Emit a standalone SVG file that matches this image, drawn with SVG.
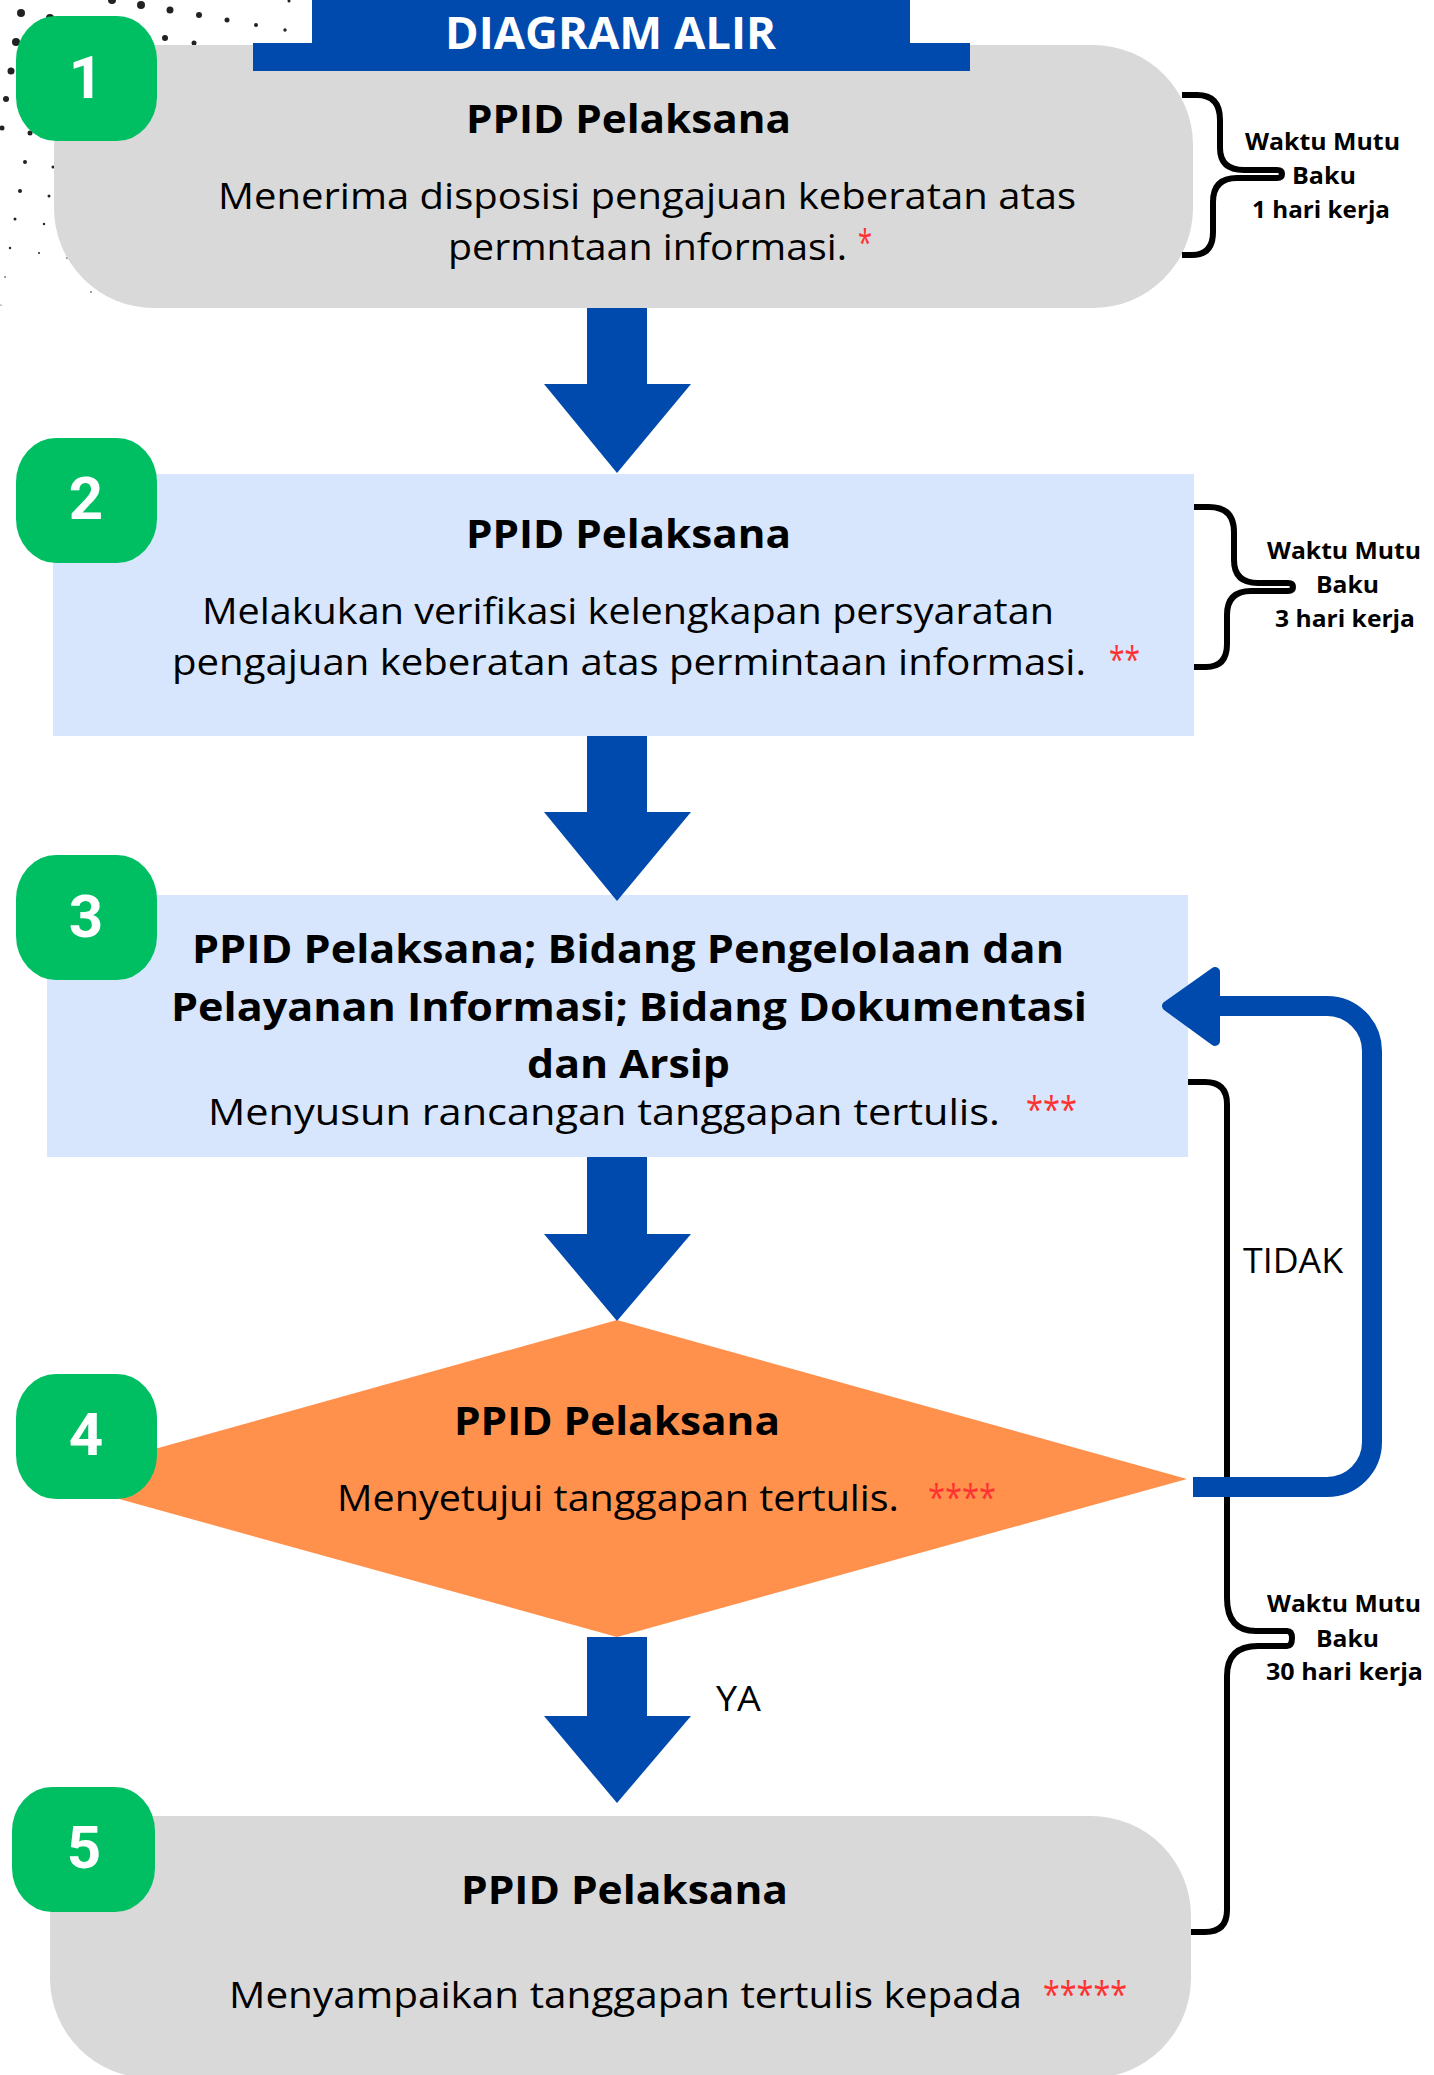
<svg xmlns="http://www.w3.org/2000/svg" width="1434" height="2075" viewBox="0 0 1434 2075">
<style>
.t{font-family:"Open Sans","Liberation Sans",sans-serif;font-weight:700;font-size:40px;fill:#000}
.b{font-family:"Open Sans","Liberation Sans",sans-serif;font-weight:400;font-size:36px;fill:#000}
.r{font-family:"Open Sans","Liberation Sans",sans-serif;font-weight:400;font-size:36px;fill:#FF3131}
.w{font-family:"Open Sans","Liberation Sans",sans-serif;font-weight:700;font-size:24px;fill:#000}
.n{font-family:Roboto,"Liberation Sans",sans-serif;font-weight:700;font-size:60px;fill:#fff;text-anchor:middle}
.lbl{font-family:"Open Sans","Liberation Sans",sans-serif;font-weight:400;font-size:35px;fill:#000}
.green{fill:#00BF63}
.gray{fill:#D9D9D9}
.lb{fill:#D7E6FC}
.blue{fill:#004AAD}
.br{fill:none;stroke:#000;stroke-width:6;stroke-linejoin:round}
.dot{fill:#222}
</style>

<g id="dots">
<circle class="dot" cx="289" cy="1" r="1.5"/>
<circle class="dot" cx="112" cy="0" r="4"/>
<circle class="dot" cx="141" cy="5" r="4"/>
<circle class="dot" cx="170" cy="10" r="3.5"/>
<circle class="dot" cx="199" cy="15" r="3"/>
<circle class="dot" cx="227" cy="20" r="2.5"/>
<circle class="dot" cx="256" cy="25" r="2"/>
<circle class="dot" cx="285" cy="30" r="1.7"/>
<circle class="dot" cx="21" cy="13" r="4"/>
<circle class="dot" cx="50" cy="18" r="4"/>
<circle class="dot" cx="165" cy="38" r="3"/>
<circle class="dot" cx="194" cy="43" r="2.5"/>
<circle class="dot" cx="16" cy="42" r="4"/>
<circle class="dot" cx="11" cy="71" r="3.5"/>
<circle class="dot" cx="6" cy="99" r="3"/>
<circle class="dot" cx="2" cy="128" r="2.5"/>
<circle class="dot" cx="30" cy="133" r="2.5"/>
<circle class="dot" cx="25" cy="162" r="2"/>
<circle class="dot" cx="53" cy="167" r="1.5"/>
<circle class="dot" cx="20" cy="191" r="2"/>
<circle class="dot" cx="49" cy="196" r="1.5"/>
<circle class="dot" cx="15" cy="219" r="1.5"/>
<circle class="dot" cx="44" cy="224" r="1.2"/>
<circle class="dot" cx="10" cy="248" r="1.2"/>
<circle class="dot" cx="39" cy="253" r="1"/>
<circle class="dot" cx="67" cy="258" r="0.8"/>
<circle class="dot" cx="5" cy="277" r="0.8"/>
<circle class="dot" cx="91" cy="292" r="0.8"/>
<circle class="dot" cx="1" cy="305" r="0.6"/>
</g>

<g id="node1">
<rect class="gray" x="54" y="45" width="1139" height="263" rx="100" ry="100"/>
<text class="t" x="466" y="133" textLength="325" lengthAdjust="spacingAndGlyphs">PPID Pelaksana</text>
<text class="b" x="218" y="209" textLength="858" lengthAdjust="spacingAndGlyphs">Menerima disposisi pengajuan keberatan atas</text>
<text class="b" x="448" y="260" textLength="399" lengthAdjust="spacingAndGlyphs">permntaan informasi.</text>
<text class="r" x="858" y="255" textLength="14" lengthAdjust="spacingAndGlyphs">*</text>
</g>

<g id="title">
<rect class="blue" x="312" y="0" width="598" height="45"/>
<rect class="blue" x="253" y="43" width="717" height="28"/>
<text x="445" y="49" textLength="331" lengthAdjust="spacingAndGlyphs" style="font-family:'Open Sans','Liberation Sans',sans-serif;font-weight:700;font-size:45px;fill:#fff">DIAGRAM ALIR</text>
</g>

<g id="badge1">
<rect class="green" x="16" y="16" width="141" height="125" rx="40" ry="44"/>
<text class="n" x="86" y="98">1</text>
</g>

<g id="node2">
<rect class="lb" x="53" y="474" width="1141" height="262"/>
<text class="t" x="466" y="548" textLength="325" lengthAdjust="spacingAndGlyphs">PPID Pelaksana</text>
<text class="b" x="202" y="624" textLength="852" lengthAdjust="spacingAndGlyphs">Melakukan verifikasi kelengkapan persyaratan</text>
<text class="b" x="172" y="675" textLength="914" lengthAdjust="spacingAndGlyphs">pengajuan keberatan atas permintaan informasi.</text>
<text class="r" x="1109" y="672" textLength="31" lengthAdjust="spacingAndGlyphs">**</text>
</g>
<g id="badge2">
<rect class="green" x="16" y="438" width="141" height="125" rx="40" ry="44"/>
<text class="n" x="86" y="519">2</text>
</g>

<g id="node3">
<rect class="lb" x="47" y="895" width="1141" height="262"/>
<text class="t" x="192" y="963" textLength="872" lengthAdjust="spacingAndGlyphs">PPID Pelaksana; Bidang Pengelolaan dan</text>
<text class="t" x="171" y="1021" textLength="916" lengthAdjust="spacingAndGlyphs">Pelayanan Informasi; Bidang Dokumentasi</text>
<text class="t" x="527" y="1078" textLength="203" lengthAdjust="spacingAndGlyphs">dan Arsip</text>
<text class="b" x="208" y="1125" textLength="792" lengthAdjust="spacingAndGlyphs">Menyusun rancangan tanggapan tertulis.</text>
<text class="r" x="1026" y="1122" textLength="51" lengthAdjust="spacingAndGlyphs">***</text>
</g>
<g id="badge3">
<rect class="green" x="16" y="855" width="141" height="125" rx="40" ry="44"/>
<text class="n" x="86" y="937">3</text>
</g>

<g id="node4">
<polygon points="617,1320 1187,1479 617,1637 47,1479" fill="#FF914D"/>
<text class="t" x="454" y="1435" textLength="326" lengthAdjust="spacingAndGlyphs">PPID Pelaksana</text>
<text class="b" x="337" y="1511" textLength="562" lengthAdjust="spacingAndGlyphs">Menyetujui tanggapan tertulis.</text>
<text class="r" x="928" y="1510" textLength="68" lengthAdjust="spacingAndGlyphs">****</text>
</g>
<g id="badge4">
<rect class="green" x="16" y="1374" width="141" height="125" rx="40" ry="44"/>
<text class="n" x="86" y="1455">4</text>
</g>

<g id="node5">
<rect class="gray" x="50" y="1816" width="1141" height="262" rx="100" ry="100"/>
<text class="t" x="461" y="1904" textLength="327" lengthAdjust="spacingAndGlyphs">PPID Pelaksana</text>
<text class="b" x="229" y="2008" textLength="793" lengthAdjust="spacingAndGlyphs">Menyampaikan tanggapan tertulis kepada</text>
<text class="r" x="1043" y="2007" textLength="84" lengthAdjust="spacingAndGlyphs">*****</text>
</g>
<g id="badge5">
<rect class="green" x="12" y="1787" width="143" height="125" rx="40" ry="44"/>
<text class="n" x="84" y="1868">5</text>
</g>

<g id="annotations">
<path class="br" d="M1182 95 H1197 Q1220 95 1220 120 V148 Q1220 170 1244 170 H1277 Q1282 170 1282 174 Q1282 178 1277 178 H1237 Q1213 178 1213 202 V232 Q1213 255 1192 255 H1182"/>
<text class="w" x="1245" y="150" textLength="155" lengthAdjust="spacingAndGlyphs">Waktu Mutu</text>
<text class="w" x="1292" y="184" textLength="64" lengthAdjust="spacingAndGlyphs">Baku</text>
<text class="w" x="1252" y="218" textLength="138" lengthAdjust="spacingAndGlyphs">1 hari kerja</text>

<path class="br" d="M1194 507 H1209 Q1234 507 1234 532 V560 Q1234 583 1258 583 H1288 Q1293 583 1293 587 Q1293 591 1288 591 H1251 Q1227 591 1227 615 V644 Q1227 667 1206 667 H1194"/>
<text class="w" x="1267" y="559" textLength="154" lengthAdjust="spacingAndGlyphs">Waktu Mutu</text>
<text class="w" x="1316" y="593" textLength="63" lengthAdjust="spacingAndGlyphs">Baku</text>
<text class="w" x="1275" y="627" textLength="140" lengthAdjust="spacingAndGlyphs">3 hari kerja</text>

<path class="br" d="M1188 1082 H1205 Q1227 1082 1227 1104 V1598 Q1227 1631 1256 1631 H1287 Q1292 1631 1292 1638 Q1292 1646 1287 1646 H1258 Q1227 1646 1227 1676 V1910 Q1227 1932 1205 1932 H1191"/>
<text class="w" x="1267" y="1612" textLength="154" lengthAdjust="spacingAndGlyphs">Waktu Mutu</text>
<text class="w" x="1316" y="1647" textLength="63" lengthAdjust="spacingAndGlyphs">Baku</text>
<text class="w" x="1266" y="1680" textLength="157" lengthAdjust="spacingAndGlyphs">30 hari kerja</text>
</g>

<g id="connectors">
<rect class="blue" x="587" y="308" width="60" height="77"/>
<polygon class="blue" points="544,384 691,384 617,473"/>
<rect class="blue" x="587" y="736" width="60" height="77"/>
<polygon class="blue" points="544,812 691,812 617,901"/>
<rect class="blue" x="587" y="1157" width="60" height="78"/>
<polygon class="blue" points="544,1234 691,1234 617,1321"/>
<rect class="blue" x="587" y="1637" width="60" height="80"/>
<polygon class="blue" points="544,1716 691,1716 617,1803"/>
<path d="M1193 1487 H1327 A45 45 0 0 0 1372 1442 V1051 A45 45 0 0 0 1327 1006 H1212" fill="none" stroke="#004AAD" stroke-width="20"/>
<polygon points="1167,1006 1215,972 1215,1041" fill="#004AAD" stroke="#004AAD" stroke-width="10" stroke-linejoin="round"/>
<text class="lbl" x="1243" y="1273" textLength="100" lengthAdjust="spacingAndGlyphs">TIDAK</text>
<text class="lbl" x="716" y="1711" textLength="45" lengthAdjust="spacingAndGlyphs">YA</text>
</g>
</svg>
